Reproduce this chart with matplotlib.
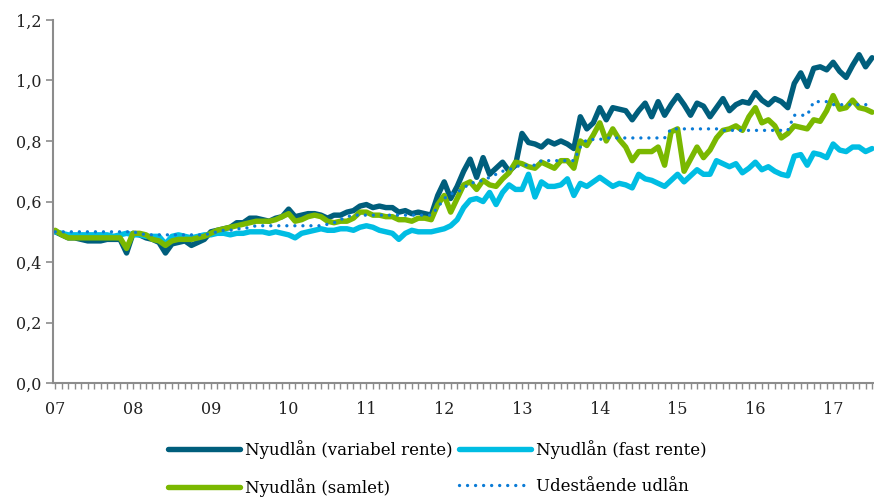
import numpy as np
import matplotlib
matplotlib.use('Agg')
import matplotlib.pyplot as plt
from matplotlib.ticker import FuncFormatter, MultipleLocator

plt.rcParams['font.family'] = ['DejaVu Serif']

# monthly observations, Jan 2007 - Jul 2017
variabel = [0.50, 0.49, 0.48, 0.48, 0.475, 0.47, 0.47, 0.47, 0.475, 0.475, 0.475, 0.43,
            0.495, 0.49, 0.48, 0.475, 0.465, 0.43, 0.46, 0.465, 0.47, 0.455, 0.465, 0.475,
            0.50, 0.505, 0.51, 0.515, 0.53, 0.53, 0.545, 0.545, 0.54, 0.535, 0.545, 0.55,
            0.575, 0.55, 0.555, 0.56, 0.56, 0.555, 0.545, 0.555, 0.555, 0.565, 0.57, 0.585,
            0.59, 0.58, 0.585, 0.58, 0.58, 0.565, 0.57, 0.56, 0.565, 0.56, 0.555, 0.62,
            0.665, 0.61, 0.65, 0.70, 0.74, 0.68, 0.745, 0.69, 0.71, 0.73, 0.70, 0.72,
            0.825, 0.795, 0.79, 0.78, 0.80, 0.79, 0.80, 0.79, 0.775, 0.88, 0.84, 0.86,
            0.91, 0.87, 0.91, 0.905, 0.90, 0.87, 0.90, 0.925, 0.88, 0.93, 0.885, 0.92,
            0.95, 0.92, 0.885, 0.925, 0.915, 0.88, 0.91, 0.94, 0.90, 0.92, 0.93, 0.925,
            0.96, 0.935, 0.92, 0.94, 0.93, 0.91, 0.99, 1.025, 0.98, 1.04, 1.045, 1.035,
            1.06, 1.03, 1.01, 1.05, 1.085, 1.045, 1.075]

fast = [0.50, 0.495, 0.49, 0.49, 0.49, 0.49, 0.49, 0.49, 0.49, 0.485, 0.49, 0.495,
        0.49, 0.49, 0.485, 0.485, 0.485, 0.46, 0.485, 0.49, 0.485, 0.48, 0.485, 0.49,
        0.49, 0.495, 0.495, 0.49, 0.495, 0.495, 0.50, 0.50, 0.50, 0.495, 0.50, 0.495,
        0.49, 0.48, 0.495, 0.50, 0.505, 0.51, 0.505, 0.505, 0.51, 0.51, 0.505, 0.515,
        0.52, 0.515, 0.505, 0.50, 0.495, 0.475, 0.495, 0.505, 0.50, 0.50, 0.50, 0.505,
        0.51, 0.52, 0.54, 0.58, 0.605, 0.61, 0.60, 0.63, 0.59, 0.63, 0.655, 0.64,
        0.64, 0.69, 0.615, 0.665, 0.65, 0.65, 0.655, 0.675, 0.62, 0.66, 0.65, 0.665,
        0.68, 0.665, 0.65, 0.66, 0.655, 0.645, 0.69, 0.675, 0.67, 0.66, 0.65, 0.67,
        0.69, 0.665, 0.685, 0.705, 0.69, 0.69, 0.735, 0.725, 0.715, 0.725, 0.695, 0.71,
        0.73, 0.705, 0.715, 0.70, 0.69, 0.685, 0.75, 0.755, 0.72, 0.76, 0.755, 0.745,
        0.79, 0.77, 0.765, 0.78, 0.78, 0.765, 0.775]

samlet = [0.505, 0.49, 0.48, 0.48, 0.48, 0.48, 0.48, 0.48, 0.48, 0.48, 0.48, 0.445,
          0.495, 0.495, 0.49, 0.475, 0.47, 0.455, 0.47, 0.475, 0.475, 0.475, 0.48, 0.485,
          0.495, 0.505, 0.51, 0.515, 0.52, 0.525, 0.53, 0.535, 0.535, 0.535, 0.54, 0.55,
          0.56, 0.535, 0.54, 0.55, 0.555, 0.55, 0.535, 0.53, 0.535, 0.535, 0.545, 0.565,
          0.565, 0.555, 0.555, 0.55, 0.55, 0.54, 0.54, 0.535, 0.545, 0.545, 0.54, 0.59,
          0.62, 0.565, 0.61, 0.655, 0.665, 0.64, 0.67, 0.655, 0.65, 0.675, 0.695, 0.73,
          0.725, 0.715, 0.71, 0.73, 0.72, 0.71, 0.735, 0.735, 0.71, 0.80, 0.785, 0.82,
          0.86, 0.80, 0.84, 0.805, 0.78, 0.735, 0.765, 0.765, 0.765, 0.78, 0.72, 0.83,
          0.84, 0.70, 0.74, 0.78, 0.745, 0.77, 0.81, 0.835, 0.84, 0.85, 0.835, 0.88,
          0.91, 0.86, 0.87, 0.85, 0.81, 0.825, 0.85, 0.845, 0.84, 0.87, 0.865, 0.90,
          0.95, 0.905, 0.91, 0.935, 0.91, 0.905, 0.895]

udestaaende = [0.50] * 13 + [0.495] + [0.49] * 10 + [0.495, 0.50, 0.505, 0.505, 0.51, 0.51, 0.515] \
    + [0.52] * 11 + [0.525, 0.53, 0.54, 0.55] + [0.555] * 13 \
    + [0.58, 0.61, 0.625, 0.63, 0.645, 0.66, 0.665, 0.67, 0.68, 0.69, 0.70, 0.705, 0.715] \
    + [0.72] * 3 + [0.735] * 6 + [0.78] + [0.805] * 3 + [0.81] * 10 + [0.84] * 8 \
    + [0.835] * 11 + [0.885] * 3 + [0.93] * 3 + [0.92] * 7

year_labels = ['07', '08', '09', '10', '11', '12', '13', '14', '15', '16', '17']

x = np.arange(len(variabel))

fig = plt.figure(figsize=(8.74, 4.97), dpi=100)
ax = fig.add_axes([0.061, 0.229, 0.939, 0.731])

l1, = ax.plot(x, variabel, color='#005e7c', lw=3.9, solid_capstyle='round', solid_joinstyle='round',
              label='Nyudlån (variabel rente)')
l2, = ax.plot(x, fast, color='#00bde3', lw=3.9, solid_capstyle='round', solid_joinstyle='round',
              label='Nyudlån (fast rente)')
l3, = ax.plot(x, samlet, color='#7ab800', lw=3.9, solid_capstyle='round', solid_joinstyle='round',
              label='Nyudlån (samlet)')
l4, = ax.plot(x, udestaaende, color='#0a7bd6', lw=2.4, ls=(0, (0.01, 2.4)), dash_capstyle='round',
              label='Udestående udlån')

ax.set_xlim(-0.3, 126.3)
ax.set_ylim(0, 1.2)
ax.yaxis.set_major_locator(MultipleLocator(0.2))
ax.yaxis.set_major_formatter(FuncFormatter(lambda v, p: f'{v:.1f}'.replace('.', ',')))

ax.set_xticks(np.arange(0, 121, 12))
ax.set_xticklabels(year_labels)
ax.set_xticks(np.arange(0, 127, 1), minor=True)

for s in ['top', 'right']:
    ax.spines[s].set_visible(False)
for s in ['left', 'bottom']:
    ax.spines[s].set_color('#8c8c8c')
    ax.spines[s].set_linewidth(1.5)

ax.tick_params(axis='y', colors='#8c8c8c', labelcolor='#222222', length=5, width=1.2, labelsize=11.5)
ax.tick_params(axis='x', which='both', colors='#8c8c8c', labelcolor='#222222', length=4, width=1.0,
               labelsize=11.5, pad=9)

fig.legend([l1, l3, l2, l4], [l1.get_label(), l3.get_label(), l2.get_label(), l4.get_label()],
           loc='lower center', bbox_to_anchor=(0.5, 0.0), ncol=2, frameon=False, fontsize=12,
           handlelength=4.3, handletextpad=0.3, columnspacing=0.4, labelspacing=1.15,
           borderpad=0.0, borderaxespad=0.0)

fig.savefig('out.png', dpi=100)
